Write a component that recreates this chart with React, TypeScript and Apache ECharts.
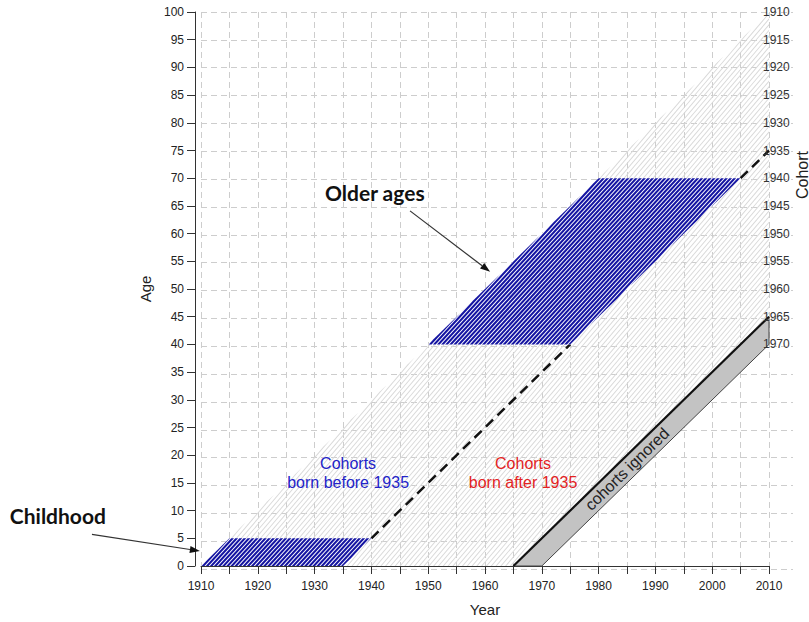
import React, { useEffect, useRef } from 'react';
import * as echarts from 'echarts';

type Pt = [number, number];

// ---- data ----
const yearRange: Pt = [1910, 2010];
const ageRange: Pt = [0, 100];
const tickStep = 5;
const cohortLabels = [1910, 1915, 1920, 1925, 1930, 1935, 1940, 1945, 1950, 1955, 1960, 1965, 1970];

const observedRegion: Pt[] = [[1910, 0], [1965, 0], [2010, 45], [2010, 100]];
const childhoodRegion: Pt[] = [[1910, 0], [1935, 0], [1940, 5], [1915, 5]];
const olderAgesRegion: Pt[] = [[1950, 40], [1975, 40], [2005, 70], [1980, 70]];
const ignoredRegion: Pt[] = [[1965, 0], [1970, 0], [2010, 40], [2010, 45]];
// visible pieces of the 1935 cohort line (dashed)
const cohort1935Segments: Pt[][] = [
  [[1940, 5], [1975, 40]],
  [[2005, 70], [2010, 75]],
];
const cohort1965Line: Pt[] = [[1965, 0], [2010, 45]];

const noteTexts = [
  { text: 'Older ages', at: [1940.6, 67.5] as Pt, color: '#111111', size: 21, weight: 'bold', family: 'Lato' },
  { text: 'Childhood', at: [1884.8, 9.2] as Pt, color: '#111111', size: 21, weight: 'bold', family: 'Lato' },
  { text: 'Cohorts', at: [1935.9, 18.5] as Pt, color: '#2323c8', size: 16, weight: 'normal', family: 'Liberation Sans' },
  { text: 'born before 1935', at: [1935.9, 15.1] as Pt, color: '#2323c8', size: 16, weight: 'normal', family: 'Liberation Sans' },
  { text: 'Cohorts', at: [1966.7, 18.5] as Pt, color: '#e3231f', size: 16, weight: 'normal', family: 'Liberation Sans' },
  { text: 'born after 1935', at: [1966.7, 15.1] as Pt, color: '#e3231f', size: 16, weight: 'normal', family: 'Liberation Sans' },
];
const ignoredLabel = { text: 'cohorts ignored', at: [1985, 17.5] as Pt };
const arrows: { from: Pt; to: Pt }[] = [
  { from: [1946.8, 64.1], to: [1960.9, 53.1] },
  { from: [1890.8, 5.7], to: [1909.8, 2.7] },
];

// ---- helpers ----
function signedArea(poly: number[][]) {
  let area = 0;
  for (let i = 0; i < poly.length; i++) {
    const a = poly[i], b = poly[(i + 1) % poly.length];
    area += a[0] * b[1] - b[0] * a[1];
  }
  return area;
}

// Sutherland–Hodgman: clip subject polygon by convex clip polygon
function clipPoly(subject: number[][], clip: number[][]): number[][] {
  const sgn = signedArea(clip) > 0 ? 1 : -1;
  let out = subject;
  for (let i = 0; i < clip.length && out.length; i++) {
    const a = clip[i], b = clip[(i + 1) % clip.length];
    const side = (p: number[]) => sgn * ((b[0] - a[0]) * (p[1] - a[1]) - (b[1] - a[1]) * (p[0] - a[0]));
    const input = out;
    out = [];
    for (let j = 0; j < input.length; j++) {
      const p = input[j], q = input[(j + 1) % input.length];
      const sp = side(p), sq = side(q);
      if (sp >= 0) out.push(p);
      if ((sp >= 0) !== (sq >= 0)) {
        const t = sp / (sp - sq);
        out.push([p[0] + (q[0] - p[0]) * t, p[1] + (q[1] - p[1]) * t]);
      }
    }
  }
  return out;
}

function hatchBands(poly: number[][], spacing: number, band: number, k: number, fill: string) {
  const xs = poly.map((p) => p[0]);
  const ys = poly.map((p) => p[1]);
  const minX = Math.min(...xs), maxX = Math.max(...xs);
  const minY = Math.min(...ys), maxY = Math.max(...ys);
  const yb = maxY + 2, H = maxY - minY + 4;
  const out: any[] = [];
  const start = Math.floor(minX - k * H - spacing);
  for (let c = start; c <= maxX + spacing; c += spacing) {
    const quad = [
      [c, yb], [c + band, yb], [c + band + k * H, yb - H], [c + k * H, yb - H],
    ];
    const pts = clipPoly(quad, poly);
    if (pts.length >= 3) {
      out.push({ type: 'polygon', shape: { points: pts }, style: { fill } });
    }
  }
  return out;
}

const one = [[1910, 0]];

export default function App() {
  const ref = useRef<HTMLDivElement>(null);
  useEffect(() => {
    if (!ref.current) return;
    const chart = echarts.init(ref.current, undefined, { renderer: 'svg' });
    const fam = 'Liberation Sans';
    const dashed = { type: [6, 4] as any, color: '#cdcdcd', width: 1 };

    const series: any[] = [
      {
        type: 'custom', xAxisIndex: 1, yAxisIndex: 1, clip: false, z: 2, silent: true, data: one,
        renderItem: (_p: any, api: any) => {
          const poly = observedRegion.map((d) => api.coord(d));
          return { type: 'group', children: hatchBands(poly, 4.8, 1.2, 0.85, '#d8d8d8') };
        },
      },
      {
        type: 'custom', xAxisIndex: 1, yAxisIndex: 1, clip: false, z: 3, silent: true, data: one,
        renderItem: (_p: any, api: any) => {
          const poly = ignoredRegion.map((d) => api.coord(d));
          const c = api.coord(cohort1965Line[0]), d = api.coord(cohort1965Line[1]);
          const children: any[] = [
            { type: 'polygon', shape: { points: poly }, style: { fill: '#c3c3c3', stroke: '#444', lineWidth: 1 } },
            { type: 'line', shape: { x1: c[0], y1: c[1], x2: d[0], y2: d[1] }, style: { stroke: '#111', lineWidth: 2.2 } },
          ];
          cohort1935Segments.forEach((seg) => {
            const a = api.coord(seg[0]), b = api.coord(seg[1]);
            children.push({ type: 'line', shape: { x1: a[0], y1: a[1], x2: b[0], y2: b[1] }, style: { stroke: '#111', lineWidth: 2.5, lineDash: [10, 6] } });
          });
          return { type: 'group', children };
        },
      },
      {
        type: 'custom', xAxisIndex: 1, yAxisIndex: 1, clip: false, z: 4, silent: true, data: one,
        renderItem: (_p: any, api: any) => {
          const children: any[] = [];
          [childhoodRegion, olderAgesRegion].forEach((reg) => {
            const poly = reg.map((d) => api.coord(d));
            children.push({ type: 'polygon', shape: { points: poly }, style: { fill: '#ffffff' } });
            children.push(...hatchBands(poly, 4.1, 2.8, 0.92, '#1414a2'));
          });
          return { type: 'group', children };
        },
      },
      {
        type: 'custom', xAxisIndex: 1, yAxisIndex: 1, clip: false, z: 5, silent: true, data: one,
        renderItem: (_p: any, api: any) => {
          const children: any[] = [];
          noteTexts.forEach((n) => {
            const p = api.coord(n.at);
            children.push({
              type: 'text', x: p[0], y: p[1],
              style: { text: n.text, fill: n.color, fontSize: n.size, fontWeight: n.weight, fontFamily: n.family, align: 'center', verticalAlign: 'middle' },
            });
          });
          const c0 = api.coord(cohort1965Line[0]), c1 = api.coord(cohort1965Line[1]);
          const ang = Math.atan2(c0[1] - c1[1], c1[0] - c0[0]);
          const ip = api.coord(ignoredLabel.at);
          children.push({
            type: 'text', x: ip[0], y: ip[1], rotation: ang,
            style: { text: ignoredLabel.text, fill: '#222', fontSize: 16, fontFamily: fam, align: 'center', verticalAlign: 'middle' },
          });
          cohortLabels.forEach((c) => {
            const p = api.coord([yearRange[1], yearRange[1] - c]);
            children.push({
              type: 'text', x: p[0] - 6, y: p[1],
              style: { text: String(c), fill: '#333', fontSize: 12, fontFamily: fam, align: 'left', verticalAlign: 'middle' },
            });
          });
          arrows.forEach((ar) => {
            const s = api.coord(ar.from), e = api.coord(ar.to);
            const dx = e[0] - s[0], dy = e[1] - s[1];
            const L = Math.sqrt(dx * dx + dy * dy);
            const ux = dx / L, uy = dy / L;
            const hl = 10, hw = 3.5;
            const bx = e[0] - ux * hl, by = e[1] - uy * hl;
            children.push({ type: 'line', shape: { x1: s[0], y1: s[1], x2: bx, y2: by }, style: { stroke: '#333', lineWidth: 1.2 } });
            children.push({
              type: 'polygon',
              shape: { points: [[e[0], e[1]], [bx - uy * hw, by + ux * hw], [bx + uy * hw, by - ux * hw]] },
              style: { fill: '#111' },
            });
          });
          return { type: 'group', children };
        },
      },
    ];

    chart.setOption({
      animation: false,
      grid: [
        { left: 201, right: 16, top: 12, bottom: 53 },
        { left: 201, right: 40, top: 12, bottom: 53 },
      ],
      xAxis: [
        { gridIndex: 0, type: 'value', min: 1910, max: 2014.2, show: false },
        {
          gridIndex: 1, type: 'value', min: yearRange[0], max: yearRange[1], interval: tickStep,
          axisLine: { show: true, lineStyle: { color: '#333', width: 1 } },
          axisTick: { show: true, length: 8, lineStyle: { color: '#333' } },
          axisLabel: { formatter: (v: number) => (v % 10 === 0 ? String(v) : ''), margin: 14, fontSize: 12, color: '#222', fontFamily: fam },
          splitLine: { show: true, lineStyle: dashed },
          name: 'Year', nameLocation: 'middle', nameGap: 36,
          nameTextStyle: { fontSize: 15, color: '#222', fontFamily: fam },
        },
      ],
      yAxis: [
        {
          gridIndex: 0, type: 'value', min: ageRange[0], max: ageRange[1], interval: tickStep,
          axisLine: { show: false }, axisTick: { show: false }, axisLabel: { show: false },
          splitLine: { show: true, lineStyle: dashed },
        },
        {
          gridIndex: 1, type: 'value', min: ageRange[0], max: ageRange[1], interval: tickStep, offset: 6,
          axisLine: { show: true, lineStyle: { color: '#333', width: 1 } },
          axisTick: { show: true, length: 8, lineStyle: { color: '#333' } },
          axisLabel: { margin: 11, fontSize: 12, color: '#222', fontFamily: fam },
          splitLine: { show: false },
          name: 'Age', nameLocation: 'middle', nameGap: 38, nameRotate: 90,
          nameTextStyle: { fontSize: 15, color: '#222', fontFamily: fam },
        },
      ],
      graphic: [
        {
          type: 'text', x: 802, y: 175, rotation: Math.PI / 2,
          style: { text: 'Cohort', fill: '#222', fontSize: 16, fontFamily: fam, align: 'center', verticalAlign: 'middle' },
        },
      ],
      series,
    });
    return () => chart.dispose();
  }, []);
  return <div ref={ref} style={{ width: 809, height: 622, position: 'absolute', left: 0, top: 0, background: '#fff' }} />;
}
